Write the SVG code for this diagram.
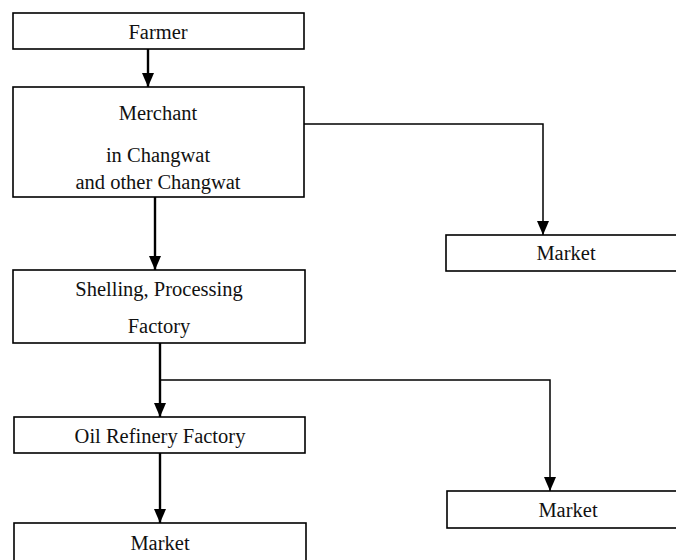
<svg xmlns="http://www.w3.org/2000/svg" width="676" height="560" viewBox="0 0 676 560">
<style>
.box{fill:#fff;stroke:#000;stroke-width:1.6}
.t{font-family:"Liberation Serif","Times New Roman",serif;font-size:20.5px;fill:#111;text-anchor:middle}
.c{fill:none;stroke:#000;stroke-width:2.4}
.b{fill:none;stroke:#000;stroke-width:1.5}
</style>
<defs>
<marker id="ahd" viewBox="0 0 14 12" refX="14" refY="6" markerWidth="14" markerHeight="12" markerUnits="userSpaceOnUse" orient="auto">
<path d="M0,0 L14,6 L0,12 Z" fill="#000"/>
</marker>
</defs>
<rect width="676" height="560" fill="#fff"/>
<g id="connectors">
<line class="c" x1="148" y1="49" x2="148" y2="87" marker-end="url(#ahd)"/>
<line class="c" x1="155" y1="197" x2="155" y2="270" marker-end="url(#ahd)"/>
<line class="c" x1="160" y1="343" x2="160" y2="417" marker-end="url(#ahd)"/>
<line class="c" x1="160" y1="453" x2="160" y2="523" marker-end="url(#ahd)"/>
<polyline class="b" points="304,124 543,124 543,235" marker-end="url(#ahd)"/>
<polyline class="b" points="160,380 550,380 550,491" marker-end="url(#ahd)"/>
</g>
<g id="farmer">
<rect class="box" x="13" y="13" width="291" height="36"/>
<text class="t" x="158" y="39">Farmer</text>
</g>
<g id="merchant">
<rect class="box" x="13" y="87" width="291" height="110"/>
<text class="t" x="158" y="120">Merchant</text>
<text class="t" x="158" y="162">in Changwat</text>
<text class="t" x="158" y="189">and other Changwat</text>
</g>
<g id="market1">
<rect class="box" x="446" y="235" width="240" height="36"/>
<text class="t" x="566" y="260">Market</text>
</g>
<g id="shelling">
<rect class="box" x="13" y="270" width="292" height="73"/>
<text class="t" x="159" y="296">Shelling, Processing</text>
<text class="t" x="159" y="333">Factory</text>
</g>
<g id="refinery">
<rect class="box" x="14" y="417" width="291" height="36"/>
<text class="t" x="160" y="443">Oil Refinery Factory</text>
</g>
<g id="market2">
<rect class="box" x="447" y="491" width="240" height="37"/>
<text class="t" x="568" y="517">Market</text>
</g>
<g id="market3">
<rect class="box" x="14" y="523" width="292" height="45"/>
<text class="t" x="160" y="550">Market</text>
</g>
</svg>
